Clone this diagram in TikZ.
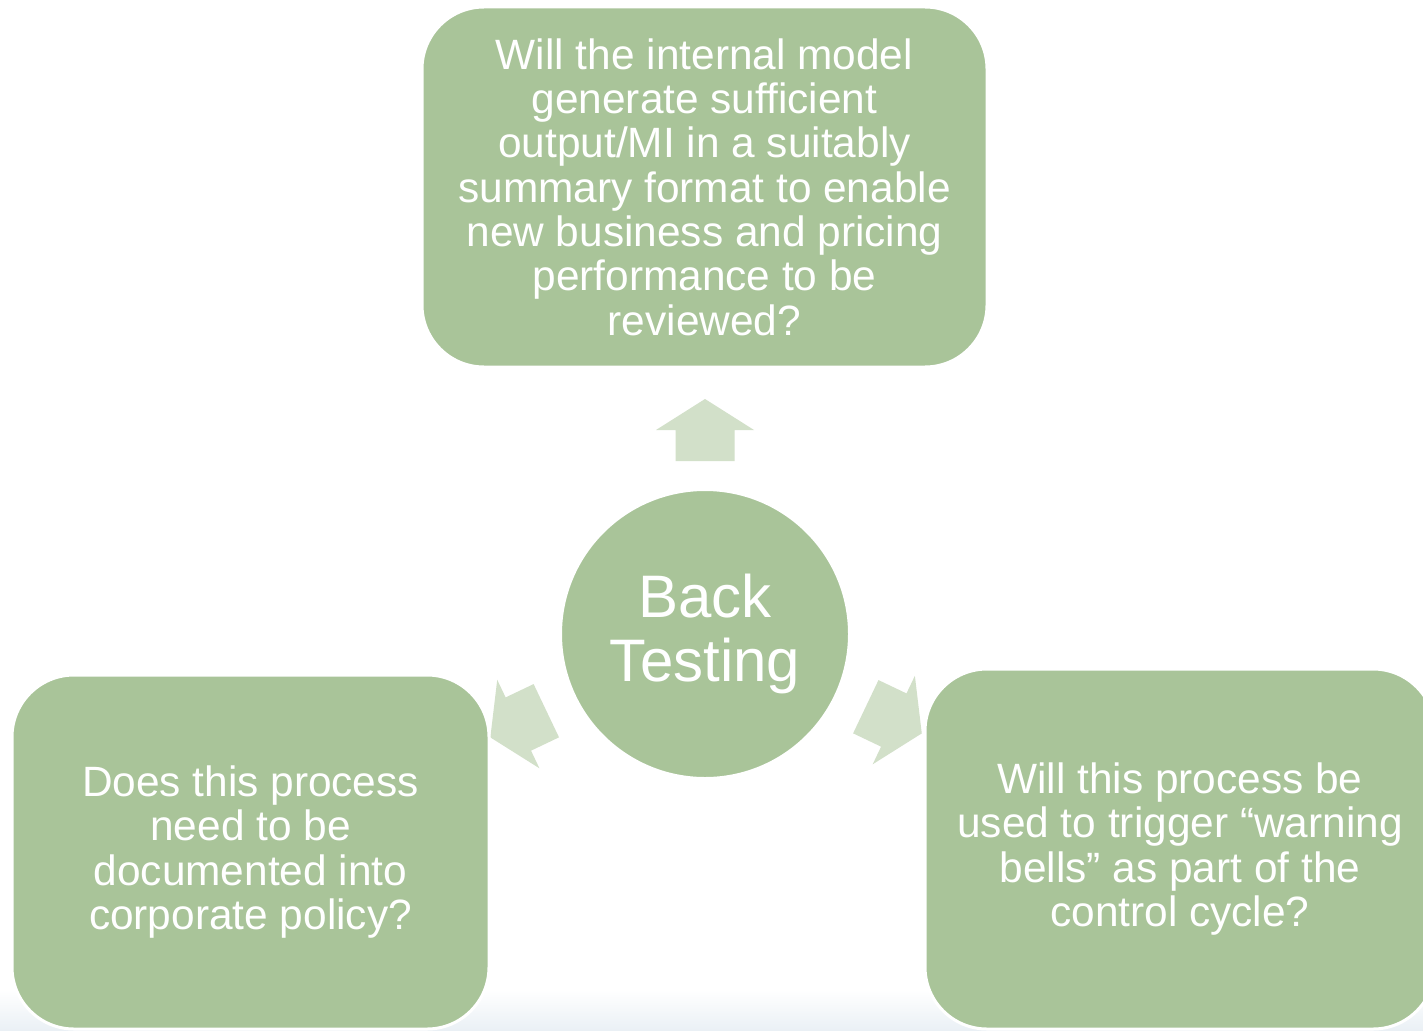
\documentclass[tikz,border=0pt]{standalone}
\usepackage{fontspec}
\setmainfont{Liberation Sans}
\definecolor{boxgreen}{HTML}{A9C499}
\definecolor{arrowgreen}{HTML}{D2E0C9}
\definecolor{bgblue}{HTML}{EAF0F5}
\tikzset{
  qbox/.style={draw=white, line width=3pt, fill=boxgreen, rounded corners=62pt,
    text=white, align=center, inner sep=0pt,
    font=\fontsize{42.4}{44.3}\selectfont},
  hub/.style={circle, draw=white, line width=2pt, fill=boxgreen, text=white,
    align=center, inner sep=0pt, minimum size=288pt,
    font=\fontsize{60}{63}\selectfont},
  blockarrow/.style={fill=arrowgreen, draw=none}
}
\begin{document}
\begin{tikzpicture}[x=1pt,y=-1pt]
\useasboundingbox (0,0) rectangle (1423,1030);
\clip (0,0) rectangle (1423,1030);
\fill[white] (0,0) rectangle (1423,1030);
\shade[top color=white, bottom color=bgblue] (0,990) rectangle (1423,1030);

% block arrows
\foreach \px/\py/\ang in {705/461/90, 546.3/710.7/205.5, 865.8/706.7/334.5}{
  \fill[blockarrow, shift={(\px,\py)}, rotate=\ang]
    (0,-29.5) -- (31,-29.5) -- (31,-49) -- (62,0) -- (31,49) -- (31,29.5) -- (0,29.5) -- cycle;
}

\node[hub] (hub) at (705,634) {Back\\[1pt]Testing};

\node[qbox, minimum width=565pt, minimum height=360pt] (top) at (704.5,187)
  {Will the internal model\\generate sufficient\\output/MI in a suitably\\summary format to enable\\new business and pricing\\performance to be\\reviewed?};

\node[qbox, minimum width=477pt, minimum height=354pt] (left) at (250.5,852)
  {Does this process\\need to be\\documented into\\corporate policy?};

\node[qbox, minimum width=510pt, minimum height=360pt] (right) at (1180,849)
  {Will this process be\\used to trigger “warning\\bells” as part of the\\control cycle?};
\end{tikzpicture}
\end{document}
